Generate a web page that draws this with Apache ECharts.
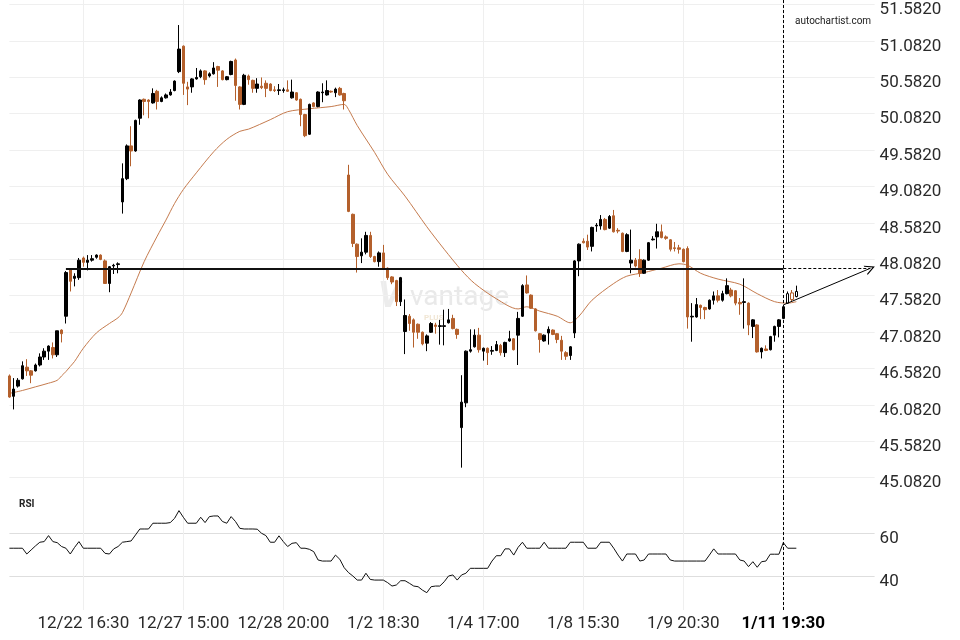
<!DOCTYPE html>
<html><head><meta charset="utf-8">
<script src="https://cdn.jsdelivr.net/npm/echarts@6/dist/echarts.min.js"></script>
<style>html,body{margin:0;padding:0;background:#fff}#c{width:960px;height:640px}</style>
</head><body><div id="c"></div>
<script>
const opens = [
46.48,46.20,46.34,46.44,46.60,46.55,46.55,46.63,46.74,46.82,
46.87,46.77,47.11,47.30,47.94,47.82,47.83,48.10,48.04,48.07,
48.11,48.14,48.06,47.75,47.99,48.01,48.87,49.19,49.64,49.57,
50.02,50.28,50.27,50.23,50.39,50.25,50.30,50.34,50.40,50.66,
51.01,50.45,50.45,50.56,50.59,50.67,50.60,50.63,50.73,50.67,
50.55,50.62,50.82,50.45,50.21,50.60,50.54,50.43,50.46,50.50,
50.49,50.41,50.40,50.40,50.41,50.30,50.37,50.28,50.07,49.80,
50.23,50.18,50.37,50.34,50.39,50.37,50.43,50.36,49.24,48.70,
48.29,48.13,48.18,48.41,48.12,48.05,48.17,47.96,47.84,47.79,
47.50,47.09,47.30,47.25,47.19,47.08,46.93,47.08,47.18,47.16,
47.16,47.21,47.27,47.12,45.77,46.11,46.82,46.88,47.04,46.82,
46.86,46.82,46.83,46.90,46.80,46.96,46.99,47.04,47.30,47.73,
47.59,47.40,47.06,46.96,47.07,47.11,47.06,46.97,46.80,46.76,
47.07,48.06,48.33,48.33,48.26,48.54,48.54,48.63,48.51,48.68,
48.48,48.44,48.19,48.03,48.07,48.08,47.89,48.07,48.35,48.39,
48.46,48.39,48.35,48.24,48.24,48.22,48.23,47.29,47.29,47.45,
47.42,47.40,47.52,47.58,47.52,47.61,47.66,47.65,47.49,47.49,
47.48,47.16,47.18,46.81,46.85,46.84,47.04,47.16,47.27,47.48,
47.62,47.57];
const closes = [
46.19,46.30,46.42,46.62,46.55,46.49,46.63,46.74,46.82,46.89,
46.77,47.10,47.06,47.90,47.78,47.85,48.07,48.04,48.07,48.09,
48.14,48.08,47.75,47.98,48.00,48.02,49.19,49.64,49.57,49.99,
50.27,50.25,50.25,50.36,50.25,50.30,50.34,50.38,50.53,50.97,
50.50,50.42,50.56,50.58,50.67,50.55,50.63,50.71,50.68,50.55,
50.59,50.80,50.47,50.21,50.61,50.55,50.43,50.49,50.44,50.43,
50.40,50.40,50.41,50.41,50.39,50.38,50.27,50.07,49.78,50.21,
50.18,50.38,50.38,50.40,50.38,50.42,50.34,50.26,48.74,48.30,
48.12,48.18,48.41,48.12,48.05,48.17,47.96,47.83,47.77,47.50,
47.83,47.31,47.20,47.08,47.08,46.92,47.03,47.20,47.16,47.17,
47.17,47.25,47.13,47.05,46.12,46.82,46.84,47.04,46.84,46.86,
46.80,46.83,46.91,46.80,46.94,46.99,46.84,47.27,47.72,47.62,
47.41,47.10,46.98,47.04,47.12,47.05,46.98,46.82,46.75,46.88,
48.06,48.29,48.31,48.25,48.52,48.55,48.63,48.49,48.67,48.46,
48.47,48.19,48.42,48.07,47.99,47.89,48.07,48.31,48.36,48.46,
48.38,48.37,48.22,48.23,48.22,48.05,47.29,47.30,47.46,47.42,
47.39,47.52,47.58,47.52,47.61,47.72,47.58,47.48,47.47,47.50,
47.18,47.25,46.81,46.86,46.83,47.02,47.16,47.25,47.43,47.61,
47.53,47.64];
const lows = [
46.18,46.02,46.32,46.43,46.48,46.38,46.54,46.61,46.70,46.70,
46.72,46.74,46.94,47.20,47.64,47.71,47.80,47.98,47.93,48.05,
48.09,48.07,47.75,47.63,47.88,47.89,48.71,49.17,49.36,49.56,
49.93,50.06,50.02,50.22,50.14,50.24,50.29,50.33,50.39,50.64,
50.34,50.20,50.37,50.55,50.57,50.48,50.58,50.62,50.45,50.54,
50.54,50.61,50.26,50.14,50.20,50.48,50.37,50.37,50.42,50.31,
50.39,50.38,50.34,50.37,50.38,50.29,50.26,49.91,49.76,49.79,
50.17,50.17,50.24,50.33,50.37,50.31,50.33,50.14,48.73,48.25,
47.90,48.03,48.15,48.10,48.04,47.98,47.95,47.80,47.74,47.44,
47.44,46.78,47.10,46.87,46.99,46.90,46.82,47.07,47.06,46.91,
46.90,47.20,47.12,46.99,45.22,46.05,46.80,46.87,46.80,46.69,
46.63,46.77,46.82,46.76,46.74,46.95,46.83,46.63,47.29,47.61,
47.40,47.09,46.80,46.95,46.91,47.04,46.93,46.70,46.70,46.70,
47.00,47.85,48.30,48.21,48.19,48.46,48.49,48.48,48.50,48.45,
48.44,48.18,48.18,47.89,47.97,47.84,47.88,48.06,48.34,48.23,
48.37,48.35,48.19,48.19,48.16,48.04,47.13,46.95,47.28,47.26,
47.26,47.39,47.46,47.49,47.50,47.60,47.56,47.45,47.32,47.13,
47.04,47.00,46.80,46.72,46.82,46.83,46.95,47.01,47.26,47.47,
47.50,47.56];
const highs = [
46.50,46.45,46.45,46.68,46.71,46.56,46.65,46.79,46.86,46.90,
46.94,47.10,47.12,47.92,47.96,47.89,48.10,48.12,48.14,48.14,
48.15,48.15,48.08,47.99,48.02,48.04,49.40,49.66,49.91,50.00,
50.28,50.29,50.28,50.43,50.41,50.32,50.36,50.42,50.54,51.30,
51.02,50.52,50.57,50.71,50.69,50.68,50.65,50.79,50.74,50.68,
50.60,50.81,50.84,50.46,50.63,50.62,50.55,50.57,50.58,50.54,
50.50,50.46,50.49,50.44,50.54,50.55,50.38,50.29,50.08,50.22,
50.24,50.39,50.50,50.54,50.40,50.44,50.45,50.37,49.38,48.71,
48.30,48.37,48.46,48.46,48.13,48.19,48.28,47.97,47.85,47.80,
47.84,47.53,47.33,47.27,47.20,47.09,47.05,47.22,47.21,47.25,
47.39,47.40,47.32,47.13,46.49,46.83,47.12,47.12,47.14,46.87,
46.87,46.89,46.96,46.92,46.95,47.10,47.00,47.36,47.74,47.86,
47.60,47.41,47.07,47.05,47.16,47.12,47.07,47.03,46.82,46.89,
48.07,48.30,48.37,48.42,48.53,48.58,48.69,48.65,48.69,48.76,
48.51,48.45,48.44,48.49,48.10,48.22,48.08,48.32,48.40,48.57,
48.56,48.41,48.36,48.32,48.28,48.23,48.26,47.48,47.55,47.46,
47.43,47.53,47.64,47.66,47.65,47.82,47.69,47.66,47.55,47.82,
47.49,47.26,47.19,46.87,46.90,47.03,47.17,47.26,47.45,47.64,
47.66,47.72];
const maIndex = [0,3,6,9,11,12,13,14,15,17,20,23,25,26,28,31,34,36,38,40,43,47,50,53,55,60,64,69,74,77,78,80,84,87,91,96,100,104,107,112,117,119,122,126,129,131,134,139,142,146,150,154,156,159,163,168,172,176,179,181];
const maValue = [46.24,46.28,46.33,46.38,46.42,46.48,46.54,46.61,46.68,46.86,47.07,47.20,47.28,47.35,47.62,48.05,48.40,48.62,48.85,49.04,49.27,49.56,49.73,49.84,49.87,50.00,50.11,50.15,50.18,50.21,50.14,49.92,49.55,49.25,48.95,48.53,48.22,47.93,47.75,47.54,47.40,47.43,47.37,47.30,47.21,47.30,47.52,47.75,47.85,47.90,47.96,48.02,48.00,47.89,47.81,47.74,47.61,47.50,47.48,47.50];
const rsi = [
53.0,53.0,53.0,53.0,50.3,52.2,54.1,55.8,56.1,58.9,
56.1,55.6,53.8,53.0,50.3,53.4,56.1,53.0,53.0,53.0,
53.0,53.0,50.6,50.3,52.7,53.8,55.8,56.1,56.4,59.2,
62.0,62.0,62.0,64.7,64.7,64.7,64.7,65.0,67.0,70.6,
67.5,64.7,64.7,64.7,67.5,65.0,67.8,68.1,68.1,65.5,
64.7,67.8,65.5,62.3,62.0,62.0,62.0,61.9,60.0,58.9,
55.8,55.8,58.8,56.1,53.8,55.3,55.6,53.0,53.0,52.5,
51.4,47.5,47.0,47.0,47.0,49.8,47.8,43.9,41.6,40.0,
38.1,38.1,41.3,38.4,38.1,38.1,38.1,36.9,35.3,35.8,
37.8,37.8,36.6,35.3,35.0,33.4,32.2,35.0,35.3,35.3,
37.3,40.0,40.5,38.1,40.5,41.3,43.6,43.6,43.6,43.6,
43.6,47.0,49.5,49.5,52.7,52.7,49.8,53.4,55.8,53.0,
53.0,53.0,53.0,55.8,53.0,53.0,53.0,53.0,53.0,55.8,
55.8,55.8,55.8,53.0,53.0,53.0,55.8,55.8,55.8,53.0,
49.8,47.0,50.3,50.3,50.3,47.0,47.5,50.3,50.3,50.3,
50.3,50.3,47.5,47.0,47.0,47.0,47.0,47.0,47.0,47.0,
47.0,49.8,52.7,50.3,50.3,50.3,50.3,50.3,47.5,47.0,
44.4,46.7,44.1,46.7,47.0,50.2,50.2,50.2,55.6,53.0,
53.0,53.0];
const priceTicks = [45.082,45.582,46.082,46.582,47.082,47.582,48.082,48.582,49.082,49.582,50.082,50.582,51.082,51.582];
const rsiTicks = [40, 60];
const timeLabels = ['12/22 16:30','12/27 15:00','12/28 20:00','1/2 18:30','1/4 17:00','1/8 15:30','1/9 20:30','1/11 19:30'];
const firstLabelIndex = 17;
const labelStep = 23;
const slotCount = 200;
const resistanceLevel = 47.958;
const resistanceFrom = 13;
const currentIndex = 178;
const projectionStart = [178, 47.455];
const projectionEnd = [198, 47.958];
const hollowFrom = 179;

const ORANGE = '#B4602C';
const BLACK = '#000000';
const categories = Array.from({length: slotCount}, (_, i) => String(i));
const isLabelIdx = i => i >= firstLabelIndex && (i - firstLabelIndex) % labelStep === 0 && (i - firstLabelIndex) / labelStep < timeLabels.length;
const candleData = opens.map((o, i) => {
  const item = {value: [o, closes[i], lows[i], highs[i]]};
  if (i >= hollowFrom) item.itemStyle = {color: '#fff', color0: '#fff'};
  return item;
});
const maData = maIndex.map((x, k) => [x, maValue[k]]);
const arrowPath = 'path://M0,10 L5,0 L10,10 L8.8,10 L5,2.6 L1.2,10 Z';
const dashed = [3, 2];
const yLabelRich = {a: {fontSize: 17, color: '#2a2a2a', fontFamily: 'Roboto', padding: [11, 0, 0, 0]}};

const chart = echarts.init(document.getElementById('c'), null, {renderer: 'canvas'});
chart.setOption({
  animation: false,
  backgroundColor: '#fff',
  textStyle: {fontFamily: 'Roboto'},
  grid: [
    {left: 9.4, width: 865.2, top: 0, height: 498, outerBoundsMode: 'none', containLabel: false},
    {left: 9.4, width: 865.2, top: 498, height: 112, outerBoundsMode: 'none', containLabel: false}
  ],
  xAxis: [
    {type: 'category', gridIndex: 0, data: categories, boundaryGap: false,
     axisLine: {show: false}, axisTick: {show: false}, axisLabel: {show: false},
     splitLine: {show: true, interval: (i) => isLabelIdx(i), lineStyle: {color: '#efefef', width: 1}}},
    {type: 'category', gridIndex: 1, data: categories, boundaryGap: false,
     axisLine: {show: false}, axisTick: {show: false},
     axisLabel: {show: true, interval: (i) => isLabelIdx(i), margin: 5,
       formatter: (v, i) => {
         const k = (Number(v) - firstLabelIndex) / labelStep;
         const t = timeLabels[k] || '';
         return k === timeLabels.length - 1 ? '{b|' + t + '}' : t;
       },
       color: '#2a2a2a', fontSize: 17, fontFamily: 'Roboto',
       rich: {b: {fontWeight: 'bold', color: '#000', fontSize: 17, fontFamily: 'Roboto'}}},
     splitLine: {show: true, interval: (i) => isLabelIdx(i), lineStyle: {color: '#efefef', width: 1}}}
  ],
  yAxis: [
    {type: 'value', gridIndex: 0, position: 'right', min: 44.803, max: 51.644,
     axisLine: {show: false}, axisTick: {show: false, customValues: priceTicks},
     axisLabel: {customValues: priceTicks, formatter: v => '{a|' + v.toFixed(4) + '}', rich: yLabelRich, margin: 5},
     splitLine: {show: true, lineStyle: {color: '#efefef', width: 1}}},
    {type: 'value', gridIndex: 1, position: 'right', min: 24.1, max: 76.5,
     axisLine: {show: false}, axisTick: {show: false, customValues: rsiTicks},
     axisLabel: {customValues: rsiTicks, formatter: v => '{a|' + v + '}', rich: yLabelRich, margin: 5},
     splitLine: {show: true, lineStyle: {color: '#dedede', width: 1}}}
  ],
  graphic: [
    {type: 'text', left: 378, top: 280, z: -10, silent: true, style: {text: 'V', fontSize: 36, fontWeight: 'bold', fontStyle: 'italic', fill: '#ececec', fontFamily: 'Roboto'}},
    {type: 'text', left: 410, top: 284, z: -10, silent: true, style: {text: 'vantage', fontSize: 28, fill: '#e9e9e9', fontFamily: 'Roboto'}},
    {type: 'text', left: 424, top: 314, z: -10, silent: true, style: {text: 'PLUS', fontSize: 8, fontWeight: 'bold', fill: '#f1e6d4', fontFamily: 'Roboto'}},
    {type: 'text', left: 795, top: 16, style: {text: 'autochartist.com', fontSize: 10, fill: '#222', fontFamily: 'Roboto'}},
    {type: 'text', left: 19, top: 499, style: {text: 'RSI', fontSize: 10, fontWeight: 'bold', fill: '#222', fontFamily: 'Roboto'}}
  ],
  series: [
    {type: 'line', name: 'MA', xAxisIndex: 0, yAxisIndex: 0, data: maData, smooth: 0.3, symbol: 'none',
     lineStyle: {color: '#C57B4E', width: 1}, z: 1, silent: true},
    {type: 'candlestick', name: 'Price', xAxisIndex: 0, yAxisIndex: 0, data: candleData, barWidth: 3, clip: false,
     itemStyle: {color: BLACK, color0: ORANGE, borderColor: BLACK, borderColor0: ORANGE, borderWidth: 1}, z: 3,
     markLine: {silent: true, symbol: 'none', animation: false, label: {show: false},
       data: [
         [{coord: [resistanceFrom, resistanceLevel], lineStyle: {color: '#111', width: 2, type: 'solid'}}, {coord: [currentIndex, resistanceLevel]}],
         [{coord: [currentIndex, resistanceLevel], lineStyle: {color: '#000', width: 1, type: dashed}}, {coord: [projectionEnd[0], resistanceLevel]}],
         [{coord: projectionStart, symbol: 'none', lineStyle: {color: '#000', width: 1, type: 'solid'}}, {coord: projectionEnd, symbol: arrowPath, symbolSize: [10, 10]}],
         {xAxis: currentIndex, lineStyle: {color: '#000', width: 1, type: dashed}}
       ]}},
    {type: 'line', name: 'RSI', xAxisIndex: 1, yAxisIndex: 1, data: rsi, symbol: 'none',
     lineStyle: {color: '#111', width: 1}, silent: true,
     markLine: {silent: true, symbol: 'none', animation: false, label: {show: false},
       data: [{xAxis: currentIndex, lineStyle: {color: '#000', width: 1, type: dashed}}]}}
  ]
});
</script>
</body></html>
